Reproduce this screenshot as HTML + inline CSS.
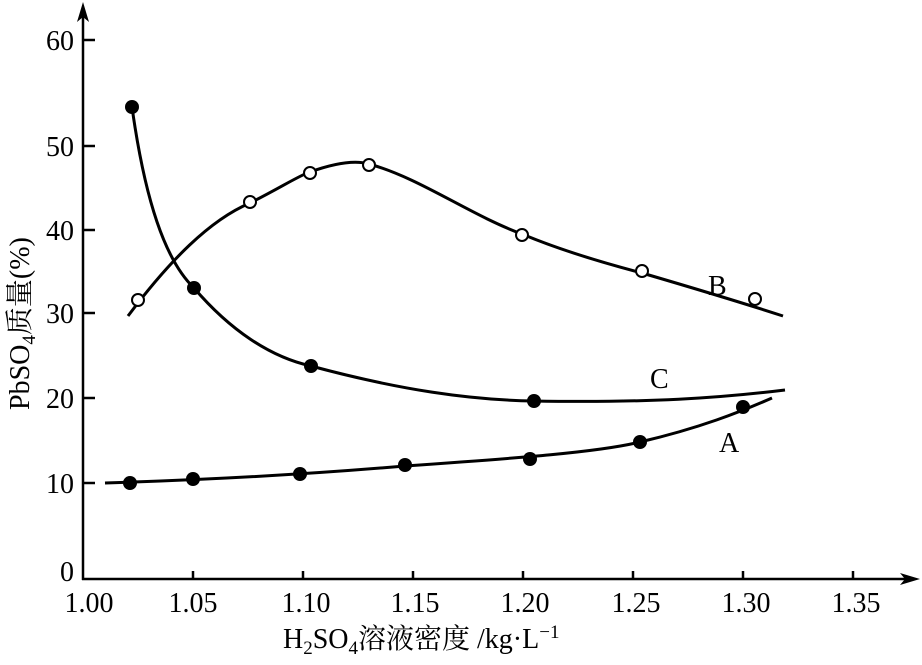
<!DOCTYPE html>
<html><head><meta charset="utf-8"><style>body{margin:0;background:#fff}</style></head><body>
<svg width="922" height="660" xmlns="http://www.w3.org/2000/svg" font-family="'Liberation Serif','Noto Serif CJK SC',serif" font-size="28">
<g stroke="#000" stroke-width="2.5" fill="none">
<line x1="83" y1="8" x2="83" y2="580"/>
<line x1="82" y1="579" x2="912" y2="579"/>
<line x1="83" y1="40" x2="95" y2="40"/><line x1="83" y1="146" x2="95" y2="146"/>
<line x1="83" y1="230" x2="95" y2="230"/><line x1="83" y1="313" x2="95" y2="313"/>
<line x1="83" y1="398" x2="95" y2="398"/><line x1="83" y1="483" x2="95" y2="483"/>
<line x1="193" y1="579" x2="193" y2="571"/><line x1="303" y1="579" x2="303" y2="571"/>
<line x1="413" y1="579" x2="413" y2="571"/><line x1="523" y1="579" x2="523" y2="571"/>
<line x1="633" y1="579" x2="633" y2="571"/><line x1="743" y1="579" x2="743" y2="571"/>
<line x1="853" y1="579" x2="853" y2="571"/>
</g>
<g stroke="#000" stroke-width="3" fill="none">
<path d="M105,483 C200,480 300,475 405,466 C520,458 600,452 640,442 C700,428 740,412 772,398"/>
<path d="M132,107 C145,200 165,260 194,288 C230,330 270,357 311,366 C400,390 470,400 534,401 C650,403 720,398 785,390"/>
<path d="M128,316 C170,260 210,220 250,203 C280,188 300,175 310,172 C335,163 355,160 369,164 C420,178 470,215 522,234 C560,250 600,262 642,273 C700,290 740,302 783,316"/>
</g>
<path d="M83,2 L77,22 L83,17 L89,22 Z"/>
<path d="M920,579 L900,573 L905,579 L900,585 Z"/>
<g fill="#000">
<circle cx="130" cy="483" r="7"/><circle cx="193" cy="479" r="7"/><circle cx="300" cy="474" r="7"/>
<circle cx="405" cy="465" r="7"/><circle cx="530" cy="459" r="7"/><circle cx="640" cy="442" r="7"/><circle cx="743" cy="407" r="7"/>
<circle cx="132" cy="107" r="7"/><circle cx="194" cy="288" r="7"/><circle cx="311" cy="366" r="7"/><circle cx="534" cy="401" r="7"/>
</g>
<g fill="#fff" stroke="#000" stroke-width="2">
<circle cx="138" cy="300" r="6"/><circle cx="250" cy="202" r="6"/><circle cx="310" cy="173" r="6"/><circle cx="369" cy="165" r="6"/>
<circle cx="522" cy="235" r="6"/><circle cx="642" cy="271" r="6"/><circle cx="755" cy="299" r="6"/>
</g>
<g text-anchor="end">
<text x="74" y="50">60</text><text x="74" y="156">50</text><text x="74" y="240">40</text>
<text x="74" y="323">30</text><text x="74" y="408">20</text><text x="74" y="493">10</text><text x="74" y="581">0</text>
</g>
<g text-anchor="middle">
<text x="89" y="612">1.00</text><text x="193" y="612">1.05</text><text x="306" y="612">1.10</text>
<text x="415" y="612">1.15</text><text x="525" y="612">1.20</text><text x="636" y="612">1.25</text>
<text x="746" y="612">1.30</text><text x="856" y="612">1.35</text>
</g>
<text x="708" y="295">B</text><text x="650" y="388">C</text><text x="719" y="452">A</text>
<text x="283" y="648">H<tspan font-size="19" dy="6">2</tspan><tspan dy="-6">SO</tspan><tspan font-size="19" dy="6">4</tspan><tspan dy="-6">溶液密度 /kg·L</tspan><tspan font-size="19" dy="-10">−1</tspan></text>
<text transform="translate(29,410) rotate(-90)">PbSO<tspan font-size="19" dy="6">4</tspan><tspan dy="-6">质量(%)</tspan></text>
</svg>
</body></html>
